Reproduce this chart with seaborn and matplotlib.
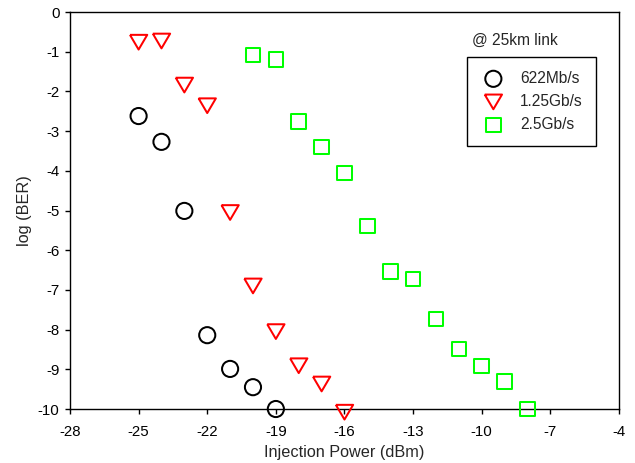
import matplotlib
matplotlib.use("Agg")
import matplotlib.pyplot as plt
import seaborn as sns
import pandas as pd

# Injection power (dBm) and measured log(BER) for each bit rate
power_622m = [-25, -24, -23, -22, -21, -20, -19]
ber_622m = [-2.62, -3.27, -5.01, -8.14, -8.99, -9.45, -10.0]

power_125g = [-25, -24, -23, -22, -21, -20, -19, -18, -17, -16]
ber_125g = [-0.76, -0.73, -1.84, -2.36, -5.05, -6.90, -8.05, -8.91, -9.37, -10.08]

power_25g = [-20, -19, -18, -17, -16, -15, -14, -13, -12, -11, -10, -9, -8]
ber_25g = [-1.08, -1.20, -2.76, -3.40, -4.06, -5.39, -6.54, -6.72, -7.73, -8.49, -8.92, -9.31, -10.0]

series_labels = ["622Mb/s", "1.25Gb/s", "2.5Gb/s"]
x_ticks = [-28, -25, -22, -19, -16, -13, -10, -7, -4]
y_ticks = [0, -1, -2, -3, -4, -5, -6, -7, -8, -9, -10]

sns.set_theme(style="white")
plt.rcParams["font.family"] = ["Liberation Sans", "DejaVu Sans"]
plt.rcParams["font.size"] = 11

fig = plt.figure(figsize=(6.35, 4.63), dpi=100)
ax = fig.add_axes([0.1102, 0.1166, 0.8646, 0.8574])

# slightly flattened downward triangle
tri_down = [(-1, 0.85), (1, 0.85), (0, -0.85), (-1, 0.85)]

frames = [
    pd.DataFrame({"power": power_622m, "ber": ber_622m}),
    pd.DataFrame({"power": power_125g, "ber": ber_125g}),
    pd.DataFrame({"power": power_25g, "ber": ber_25g}),
]
styles = [
    dict(marker="o", color="black", s=135),
    dict(marker=tri_down, color="#ff0000", s=155),
    dict(marker="s", color="#00ff00", s=110),
]

for df, st, lab in zip(frames, styles, series_labels):
    sns.scatterplot(data=df, x="power", y="ber", ax=ax, marker=st["marker"],
                    facecolor="none", edgecolor=st["color"], s=st["s"],
                    linewidth=1.45, clip_on=False, zorder=3, label=lab)

ax.set_xlim(-28, -4)
ax.set_ylim(-10, 0)
ax.set_xticks(x_ticks)
ax.set_xticklabels([str(t) for t in x_ticks])
ax.set_yticks(y_ticks)
ax.set_yticklabels([str(t) for t in y_ticks])
ax.set_xlabel("Injection Power (dBm)", fontsize=11.7, labelpad=4)
ax.set_ylabel("log (BER)", fontsize=11.7, labelpad=4)

for sp in ax.spines.values():
    sp.set_visible(True)
    sp.set_color("black")
    sp.set_linewidth(1.0)
ax.tick_params(axis="both", which="both", direction="out", length=3.5, width=1.0,
               color="black", labelsize=10.8, labelcolor="black",
               bottom=True, left=True, top=False, right=False)
ax.tick_params(axis="x", pad=8)
ax.tick_params(axis="y", pad=4)

leg = ax.legend(loc="upper left", bbox_to_anchor=(0.723, 0.5, 0.235, 0.387),
                mode="expand", frameon=True, fancybox=False, edgecolor="black",
                framealpha=1, fontsize=11.2, borderpad=0.9, labelspacing=0.52,
                handletextpad=0.9, handlelength=1.6, borderaxespad=0)
leg.get_frame().set_linewidth(1.0)

ax.text(0.732, 0.929, "@ 25km link", transform=ax.transAxes, fontsize=11.2,
        ha="left", va="center")

fig.savefig("out.png", dpi=100)
